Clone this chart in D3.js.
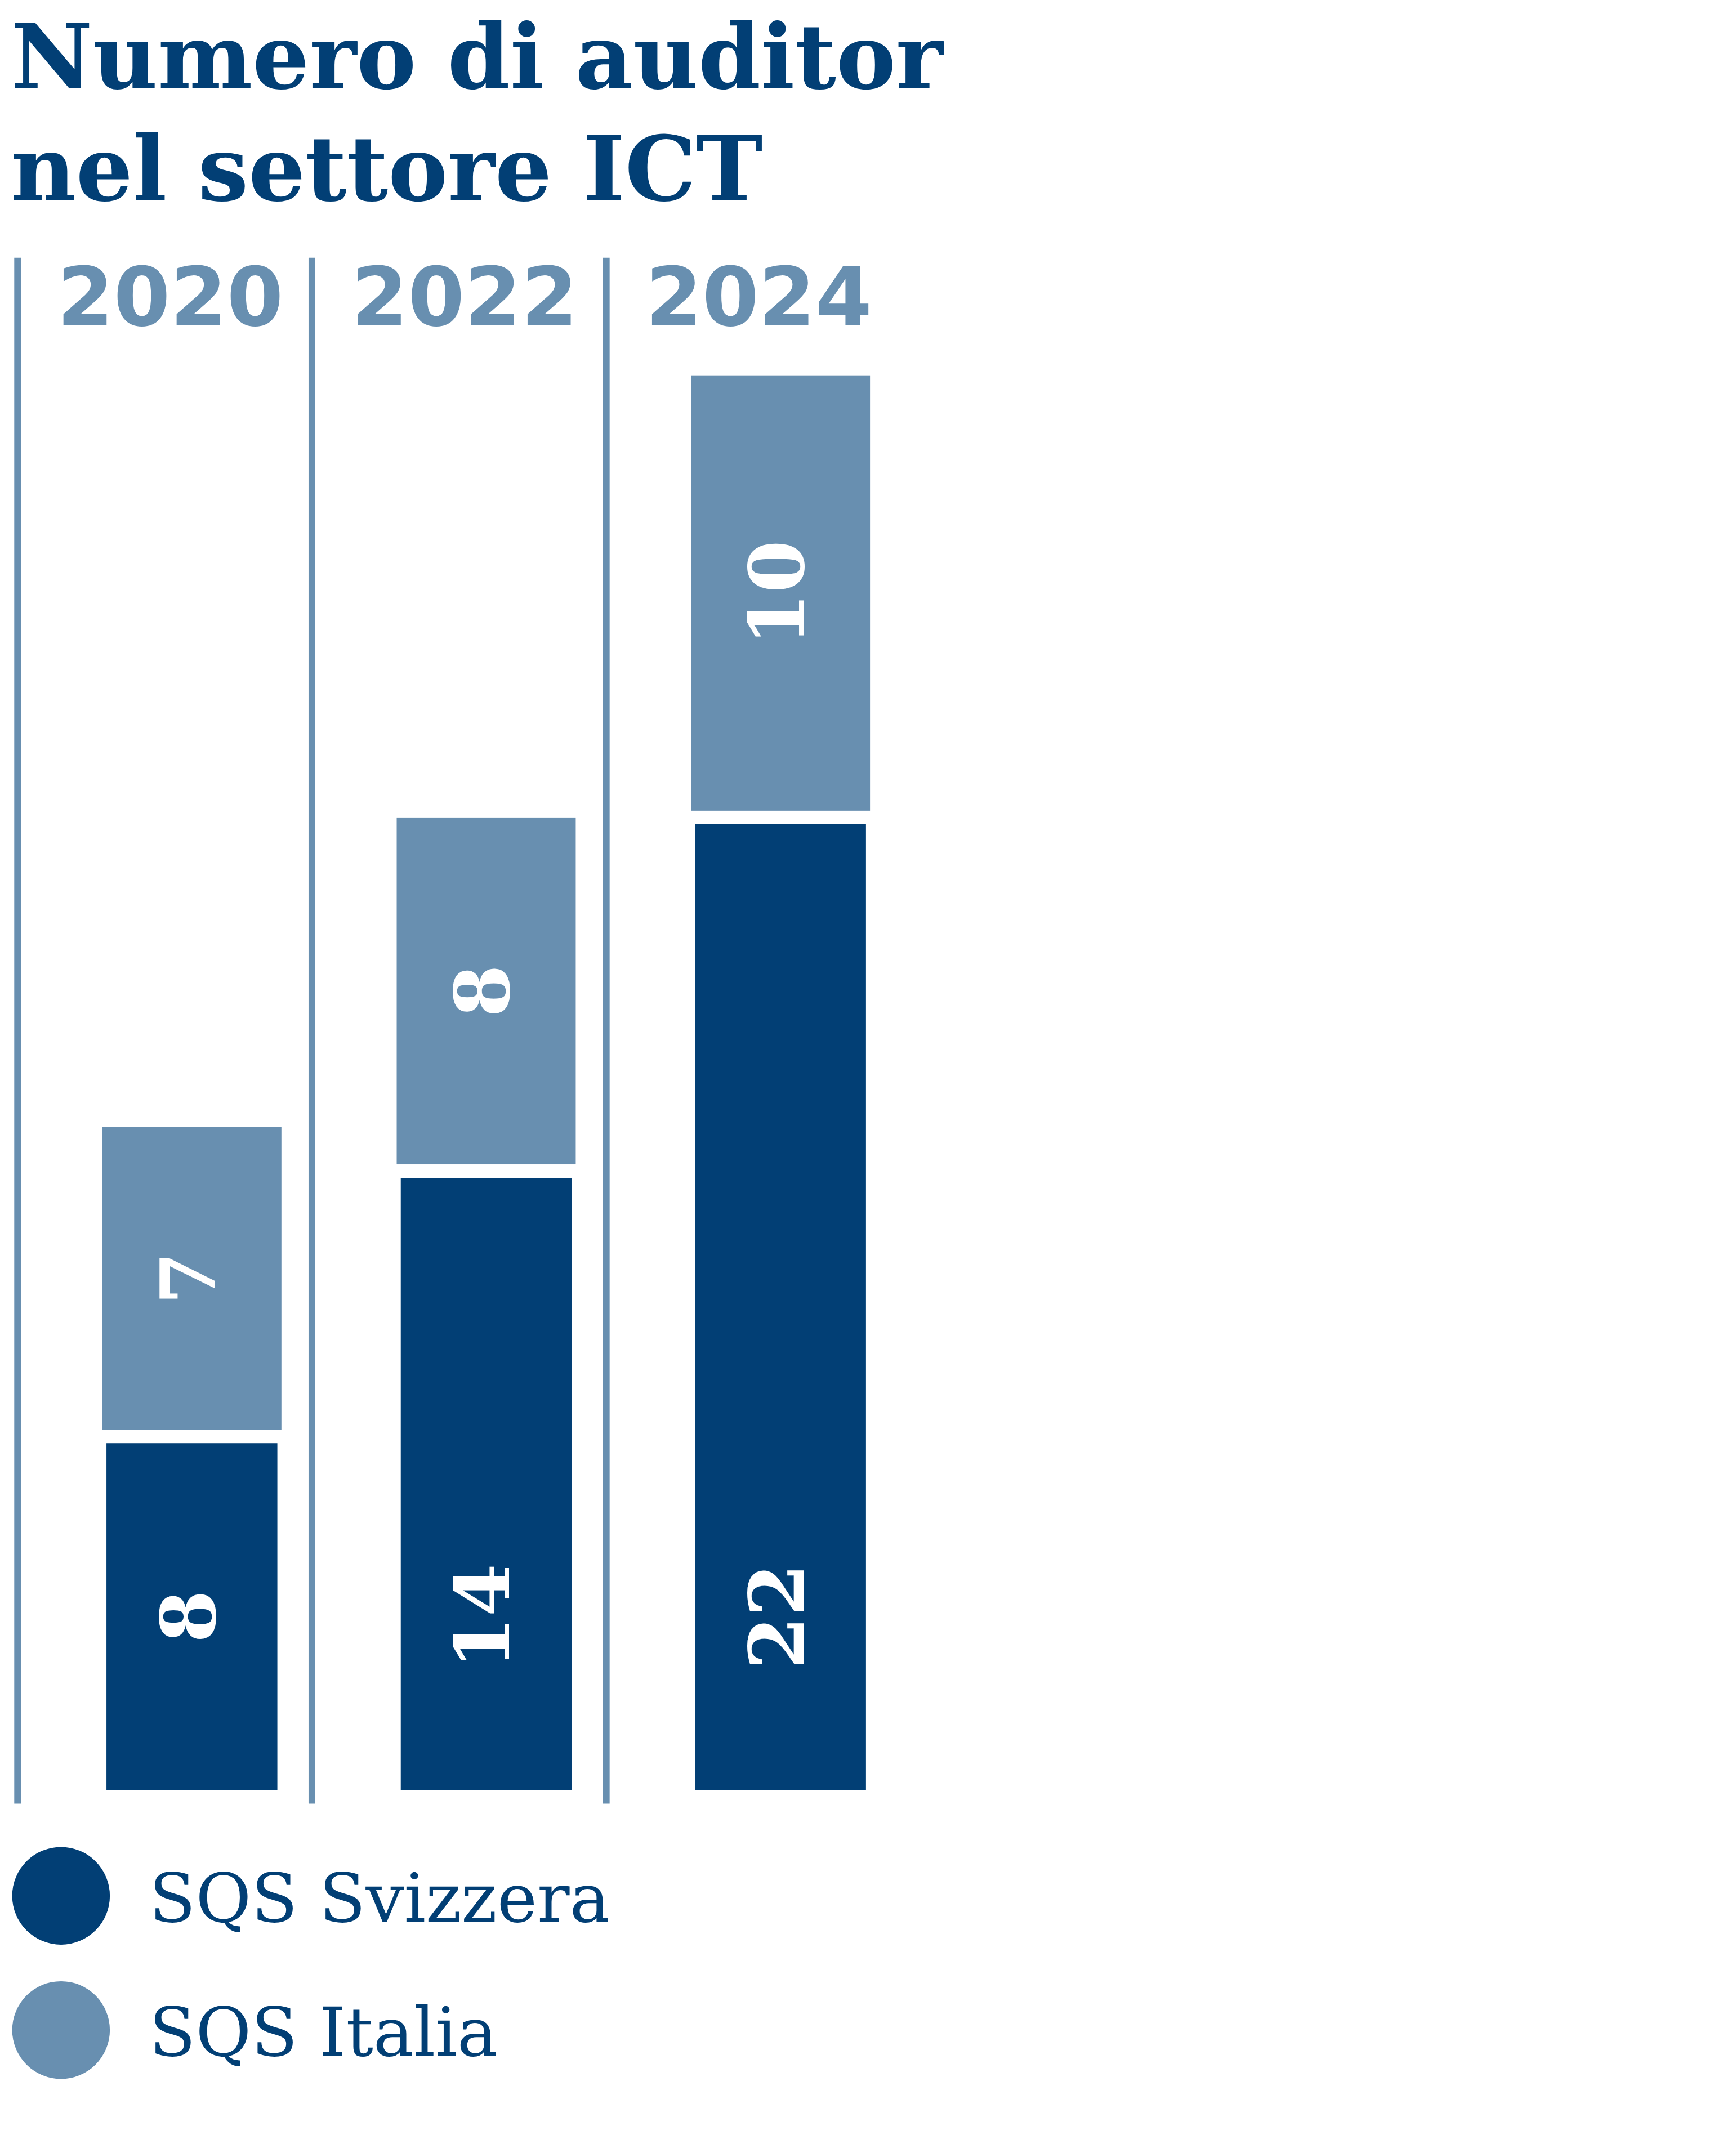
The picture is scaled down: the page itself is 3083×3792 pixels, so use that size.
<!DOCTYPE html>
<html><head><meta charset="utf-8">
<script src="https://cdn.jsdelivr.net/npm/d3@7"></script>
<style>body{margin:0;background:#fff}</style>
</head><body>
<script>
const years = ["2020","2022","2024"];
const svizzera = [8,14,22];
const italia = [7,8,10];
const seriesNames = ["SQS Svizzera","SQS Italia"];
const titleLines = ["Numero di auditor","nel settore ICT"];

const dark="#023f75", light="#688fb0";
const W=1280, H=W*3792/3083;
const svg=d3.select("body").append("svg").attr("width",3083).attr("height",3792)
  .attr("viewBox",`0 0 ${W} ${H}`);
const serif="'DejaVu Serif', serif";

svg.selectAll("text.title").data(titleLines).join("text")
  .attr("x",8).attr("y",(d,i)=>65+i*83).text(d=>d)
  .attr("font-family",serif).attr("font-weight","bold").attr("font-size",66).attr("fill",dark);

const x=d3.scaleBand().domain(years).range([13,664]).paddingInner(0).paddingOuter(0);
const y=d3.scaleLinear().domain([0,32]).range([1320,1320-32*32.6]);
const gap=10;

const g=svg.append("g");
g.selectAll("line.sep").data(years).join("line")
  .attr("x1",d=>x(d)).attr("x2",d=>x(d)).attr("y1",190).attr("y2",1330)
  .attr("stroke",light).attr("stroke-width",5);
g.selectAll("text.yr").data(years).join("text")
  .attr("x",d=>x(d)+x.bandwidth()/2+4).attr("y",240).text(d=>d)
  .attr("text-anchor","middle").attr("font-family","'DejaVu Sans', sans-serif").attr("font-weight","bold")
  .attr("font-size",60).attr("fill",light);

years.forEach((yr,i)=>{
  const cx=x(yr)+x.bandwidth()/2+20;
  const s=svizzera[i], it=italia[i];
  const yTopD=y(s)+gap/2;
  g.append("rect").attr("x",cx-63).attr("width",126).attr("y",yTopD).attr("height",1320-yTopD).attr("fill",dark);
  const yTopL=y(s+it), yBotL=y(s)-gap/2;
  g.append("rect").attr("x",cx-66).attr("width",132).attr("y",yTopL).attr("height",yBotL-yTopL).attr("fill",light);
  const lab=(val,cy)=>g.append("text").attr("transform",`translate(${cx+17},${cy}) rotate(-90)`)
    .attr("text-anchor","middle").attr("font-family",serif).attr("font-weight","bold")
    .attr("font-size",56).attr("fill","#fff").text(val);
  lab(s,1192);
  lab(it,(yTopL+yBotL)/2);
});

const leg=svg.selectAll("g.leg").data(seriesNames).join("g").attr("transform",(d,i)=>`translate(0,${1398+i*99})`);
leg.append("circle").attr("cx",45).attr("cy",0).attr("r",36).attr("fill",(d,i)=>i?light:dark);
leg.append("text").attr("x",110).attr("y",19).text(d=>d).attr("font-family",serif)
  .attr("font-size",50).attr("fill",dark);
</script>
</body></html>
